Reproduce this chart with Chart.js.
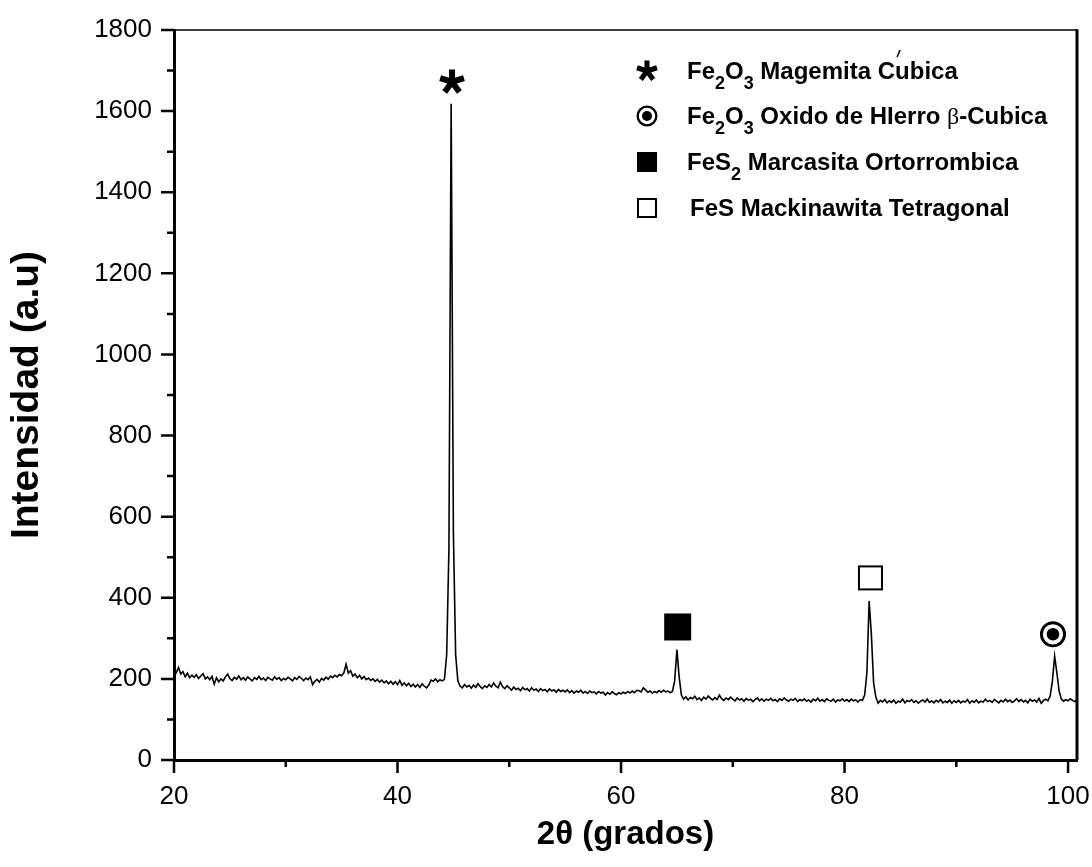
<!DOCTYPE html>
<html>
<head>
<meta charset="utf-8">
<script src="https://cdn.jsdelivr.net/npm/chart.js@4.4.1/dist/chart.umd.min.js"></script>
<style>
  html, body { margin: 0; padding: 0; background: #fff; }
  #wrap { width: 1092px; height: 867px; }
</style>
</head>
<body>
<div id="wrap"><canvas id="xrd" width="1092" height="867"></canvas></div>
<script>
// diffractogram, 2theta from 20 to 100.8 deg every 0.2 deg (one row = 5 deg)
const angleStart = 20;
const angleStep = 0.2;
const intensity = [
  208, 215, 228, 212, 218, 205, 214, 203, 209, 204, 210, 201, 207, 213, 200, 205, 198, 206, 187, 203, 193, 200, 195, 205, 212,
  201, 196, 204, 199, 207, 198, 203, 197, 205, 200, 195, 203, 199, 206, 198, 202, 196, 204, 200, 197, 205, 199, 203, 196, 201,
  198, 204, 200, 195, 203, 199, 206, 201, 196, 202, 198, 205, 186, 194, 199, 192, 201, 197, 204, 199, 207, 203, 209, 205, 211,
  208, 215, 236, 214, 220, 207, 212, 203, 209, 200, 206, 198, 202, 196, 200, 194, 199, 192, 197, 190, 195, 188, 194, 187, 193,
  186, 196, 184, 190, 183, 189, 181, 187, 180, 186, 179, 188, 182, 178, 185, 197, 194, 200, 193, 198, 195, 199, 260, 520, 1618,
  560, 260, 195, 182, 178, 186, 180, 184, 177, 185, 179, 188, 181, 176, 183, 179, 186, 180, 190, 182, 178, 192, 181, 176, 183,
  178, 172, 180, 174, 177, 171, 179, 173, 176, 170, 178, 172, 175, 169, 176, 171, 174, 168, 175, 170, 173, 167, 174, 169, 172,
  168, 173, 166, 171, 165, 170, 167, 172, 165, 169, 164, 170, 166, 168, 163, 169, 165, 167, 160, 166, 162, 168, 164, 161, 166,
  163, 167, 164, 169, 165, 170, 166, 172, 171, 168, 178, 173, 167, 170, 165, 169, 166, 171, 167, 172, 168, 170, 166, 169, 195,
  272, 205, 160, 150, 156, 148, 154, 151, 157, 149, 153, 147, 155, 150, 158, 152, 148, 154, 149, 160, 151, 147, 153, 149, 155,
  150, 146, 153, 148, 151, 145, 152, 147, 150, 144, 149, 153, 146, 151, 145, 150, 147, 152, 146, 149, 144, 151, 147, 153, 148,
  145, 150, 147, 152, 144, 149, 146, 151, 145, 148, 143, 150, 146, 152, 145, 149, 144, 151, 147, 145, 150, 143, 148, 146, 151,
  145, 149, 144, 150, 146, 148, 143, 149, 147, 160, 215, 392, 310, 190, 155, 140, 147, 143, 149, 141, 146, 142, 148, 140, 145,
  143, 150, 141, 147, 144, 149, 142, 146, 140, 145, 148, 143, 150, 142, 146, 141, 147, 143, 149, 141, 145, 142, 148, 140, 146,
  142, 147, 141, 145, 143, 149, 140, 146, 142, 148, 141, 145, 143, 150, 144, 147, 142, 149, 145, 141, 147, 143, 150, 144, 148,
  142, 146, 151, 144, 149, 143, 147, 141, 150, 145, 148, 143, 152, 140, 147, 150, 146, 158, 195, 256, 215, 170, 150, 145, 149,
  146, 151, 147, 144, 148
];

// phase markers placed over the peaks
const markerAngles = [44.88, 65.07, 82.32, 98.65];
const markerLevels = [1672, 328, 449, 310];
const markerKinds = ['star', 'filled', 'open', 'ring'];

// legend rows: symbol + rich text pieces [text, style]
const phaseKinds = ['star', 'ring', 'filled', 'open'];
const phaseLabels = [
  [['Fe', ''], ['2', 'sub'], ['O', ''], ['3', 'sub'], [' Magemita C', ''], ['', 'accent'], ['ubica', '']],
  [['Fe', ''], ['2', 'sub'], ['O', ''], ['3', 'sub'], [' Oxido de HIerro ', ''], ['\u03B2', 'greek'], ['-Cubica', '']],
  [['FeS', ''], ['2', 'sub'], [' Marcasita Ortorrombica', '']],
  [['FeS Mackinawita Tetragonal', '']]
];

const xTicks = [20, 40, 60, 80, 100];
const yTicks = [0, 200, 400, 600, 800, 1000, 1200, 1400, 1600, 1800];

const points = intensity.map((v, i) => ({ x: +(angleStart + i * angleStep).toFixed(1), y: v }));

function drawMarker(ctx, kind, x, y, s) {
  ctx.save();
  ctx.fillStyle = '#000';
  ctx.strokeStyle = '#000';
  if (kind === 'star') {
    const r = s / 2;
    ctx.lineWidth = s * 0.24;
    ctx.lineCap = 'butt';
    ctx.beginPath();
    for (let k = 0; k < 5; k++) {
      const a = (-90 + 72 * k) * Math.PI / 180;
      ctx.moveTo(x, y);
      ctx.lineTo(x + r * Math.cos(a), y + r * Math.sin(a));
    }
    ctx.stroke();
  } else if (kind === 'filled') {
    ctx.fillRect(x - s / 2, y - s / 2, s, s);
  } else if (kind === 'open') {
    ctx.lineWidth = 2;
    ctx.strokeRect(x - s / 2 + 1, y - s / 2 + 1, s - 2, s - 2);
  } else if (kind === 'ring') {
    ctx.lineWidth = s * 0.11;
    ctx.beginPath();
    ctx.arc(x, y, s / 2 - ctx.lineWidth / 2, 0, Math.PI * 2);
    ctx.stroke();
    ctx.beginPath();
    ctx.arc(x, y, s * 0.24, 0, Math.PI * 2);
    ctx.fill();
  }
  ctx.restore();
}

function drawRich(ctx, parts, x, y) {
  const mainFont = 'bold 24px "Liberation Sans", Arial, sans-serif';
  parts.forEach(([txt, style]) => {
    if (style === 'sub') {
      ctx.font = 'bold 18px "Liberation Sans", Arial, sans-serif';
      ctx.fillText(txt, x, y + 10);
      x += ctx.measureText(txt).width;
    } else if (style === 'greek') {
      ctx.font = '24px "Liberation Serif", "DejaVu Serif", serif';
      ctx.fillText(txt, x, y);
      x += ctx.measureText(txt).width;
    } else if (style === 'accent') {
      // acute mark over the following letter
      ctx.save();
      ctx.lineWidth = 1.6;
      ctx.beginPath();
      ctx.moveTo(x + 2, y - 22);
      ctx.lineTo(x + 5, y - 29);
      ctx.stroke();
      ctx.restore();
    } else {
      ctx.font = mainFont;
      ctx.fillText(txt, x, y);
      x += ctx.measureText(txt).width;
    }
  });
}

const decor = {
  id: 'decor',
  afterDraw(chart) {
    const { ctx, chartArea: area, scales: { x, y } } = chart;
    ctx.save();
    // frame on top and right
    ctx.strokeStyle = '#000';
    ctx.lineWidth = 1.5;
    ctx.beginPath();
    ctx.moveTo(area.left, area.top);
    ctx.lineTo(area.right, area.top);
    ctx.stroke();
    ctx.lineWidth = 3;
    ctx.beginPath();
    ctx.moveTo(area.right, area.top - 0.75);
    ctx.lineTo(area.right, area.bottom);
    ctx.stroke();

    // outward tick marks, major and minor
    ctx.lineWidth = 2.5;
    ctx.beginPath();
    for (let v = 0; v <= 1800; v += 100) {
      const py = y.getPixelForValue(v);
      const len = v % 200 === 0 ? 13 : 7;
      ctx.moveTo(area.left, py);
      ctx.lineTo(area.left - len, py);
    }
    for (let v = 20; v <= 100; v += 10) {
      const px = x.getPixelForValue(v);
      const len = v % 20 === 0 ? 13 : 7;
      ctx.moveTo(px, area.bottom);
      ctx.lineTo(px, area.bottom + len);
    }
    ctx.stroke();

    // phase markers over the peaks
    const markerSize = { star: 25, filled: 27, open: 25, ring: 26 };
    markerAngles.forEach((a, i) => {
      drawMarker(ctx, markerKinds[i], x.getPixelForValue(a), y.getPixelForValue(markerLevels[i]), markerSize[markerKinds[i]]);
    });

    // legend
    const lx = area.left + 473;
    const tx = area.left + 513;
    const base = [area.top + 49, area.top + 94, area.top + 140, area.top + 186];
    const legendSize = { star: 21, ring: 21, filled: 20, open: 20 };
    ctx.fillStyle = '#000';
    ctx.strokeStyle = '#000';
    ctx.textBaseline = 'alphabetic';
    ctx.textAlign = 'left';
    phaseKinds.forEach((k, i) => {
      drawMarker(ctx, k, lx, base[i] - 8, legendSize[k]);
      drawRich(ctx, phaseLabels[i], tx + (i === 3 ? 3 : 0), base[i]);
    });
    ctx.restore();
  }
};

new Chart(document.getElementById('xrd'), {
  type: 'line',
  data: {
    datasets: [{
      data: points,
      borderColor: '#000',
      borderWidth: 1.6,
      pointRadius: 0,
      tension: 0,
      fill: false
    }]
  },
  options: {
    responsive: false,
    animation: false,
    layout: { padding: { top: 30, right: 15, left: 0, bottom: 0 } },
    plugins: { legend: { display: false }, tooltip: { enabled: false } },
    scales: {
      x: {
        type: 'linear',
        min: 20,
        max: 100.8,
        grid: { display: false, drawTicks: false },
        border: { display: true, color: '#000', width: 3 },
        afterBuildTicks: s => { s.ticks = xTicks.map(v => ({ value: v })); },
        afterFit: s => { s.height = 107; s.paddingLeft = 0; s.paddingRight = 0; },
        ticks: {
          padding: 21,
          color: '#000',
          maxRotation: 0,
          callback: v => String(v),
          font: { family: '"Liberation Sans", Arial, sans-serif', size: 26 }
        },
        title: {
          display: true,
          text: '2\u03B8 (grados)',
          color: '#000',
          padding: { top: 0, bottom: 12 },
          font: { family: '"Liberation Sans", Arial, sans-serif', size: 33, weight: 'bold' }
        }
      },
      y: {
        min: 0,
        max: 1800,
        grid: { display: false, drawTicks: false },
        border: { display: true, color: '#000', width: 3 },
        afterBuildTicks: s => { s.ticks = yTicks.map(v => ({ value: v })); },
        afterFit: s => { s.width = 174; s.paddingTop = 0; s.paddingBottom = 0; },
        ticks: {
          padding: 22,
          color: '#000',
          callback: v => String(v),
          font: { family: '"Liberation Sans", Arial, sans-serif', size: 26 }
        },
        title: {
          display: true,
          text: 'Intensidad (a.u)',
          color: '#000',
          padding: { top: 4, bottom: 0 },
          font: { family: '"Liberation Sans", Arial, sans-serif', size: 39, weight: 'bold' }
        }
      }
    }
  },
  plugins: [decor]
});
</script>
</body>
</html>
